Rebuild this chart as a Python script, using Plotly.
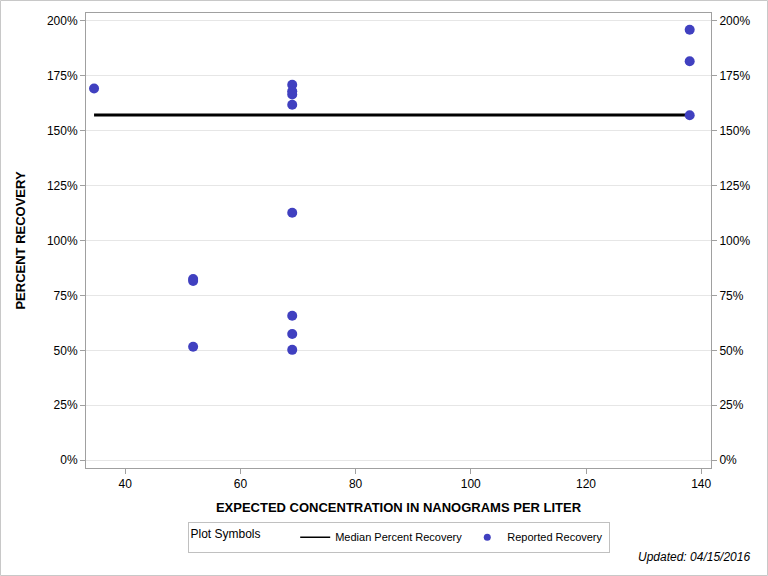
import plotly.graph_objects as go

# Data
conc = [34.6, 51.8, 51.8, 51.8, 69.0, 69.0, 69.0, 69.0, 69.0, 69.0, 69.0, 69.0, 138.0, 138.0, 138.0]
recovery = [169.2, 82.5, 81.6, 51.6, 170.9, 168.0, 166.5, 161.8, 112.6, 65.7, 57.4, 50.2, 196.0, 181.6, 157.0]
median_x = [34.6, 138.0]
median_y = [157.2, 157.2]
yticks = [0, 25, 50, 75, 100, 125, 150, 175, 200]
ytick_text = [f"{v}%" for v in yticks]
xticks = [40, 60, 80, 100, 120, 140]

YR = [-3.6, 203.6]
XR = [33.2, 141.7]

fig = go.Figure()
fig.add_trace(go.Scatter(x=median_x, y=median_y, mode="lines",
                         line=dict(color="black", width=3),
                         name="Median Percent Recovery", showlegend=False))
fig.add_trace(go.Scatter(x=conc, y=recovery, mode="markers",
                         marker=dict(color="#4040C0", size=10),
                         name="Reported Recovery", showlegend=False))
# legend-only entries (thinner line / smaller symbol like the reference)
fig.add_trace(go.Scatter(x=[None], y=[None], mode="lines",
                         line=dict(color="black", width=1.5),
                         name="Median Percent Recovery"))
fig.add_trace(go.Scatter(x=[None], y=[None], mode="markers",
                         marker=dict(color="#4040C0", size=7),
                         name="Reported Recovery"))
fig.add_trace(go.Scatter(x=[XR[0]], y=[YR[0]], yaxis="y2", mode="markers",
                         marker=dict(opacity=0), showlegend=False, hoverinfo="skip"))

axis_common = dict(showline=True, linecolor="#A0A0A0", linewidth=1,
                   ticks="outside", ticklen=5, tickcolor="#A0A0A0",
                   tickfont=dict(family="Liberation Sans, Arial", size=12, color="black"),
                   zeroline=False)

fig.update_layout(
    width=768, height=576,
    paper_bgcolor="white", plot_bgcolor="white",
    margin=dict(l=86, r=57, t=13, b=108),
    font=dict(family="Liberation Sans, Arial", color="black"),
    xaxis=dict(range=XR, tickvals=xticks, mirror=True, showgrid=False,
               title=dict(text="<b>EXPECTED CONCENTRATION IN NANOGRAMS PER LITER</b>",
                          font=dict(size=13), standoff=12),
               **axis_common),
    yaxis=dict(range=YR, tickvals=yticks, ticktext=ytick_text, showgrid=True,
               gridcolor="#E6E6E6", gridwidth=1,
               title=dict(text="<b>PERCENT RECOVERY</b>", font=dict(size=13), standoff=18),
               **axis_common),
    yaxis2=dict(range=YR, tickvals=yticks, ticktext=ytick_text, overlaying="y",
                side="right", showgrid=False, **axis_common),
    showlegend=True,
    legend=dict(orientation="h", x=0.5, xanchor="center", y=-0.118, yanchor="top",
                bordercolor="#C0C0C0", borderwidth=1,
                font=dict(size=11), itemwidth=30, tracegroupgap=0,
                title=dict(text="Plot Symbols        ", font=dict(size=12), side="left")),
    annotations=[dict(text="<i>Updated: 04/15/2016</i>", xref="paper", yref="paper",
                      x=(752 - 86) / 625, y=(468 - 557) / 455, xanchor="right",
                      yanchor="middle", showarrow=False, font=dict(size=12))],
    shapes=[dict(type="rect", xref="paper", yref="paper",
                 x0=-85.5 / 625, x1=(767.5 - 86) / 625,
                 y0=(468 - 575.5) / 455, y1=(468 - 0.5) / 455,
                 line=dict(color="#C8C8C8", width=1), layer="below")],
)

fig.write_html("out.html")
